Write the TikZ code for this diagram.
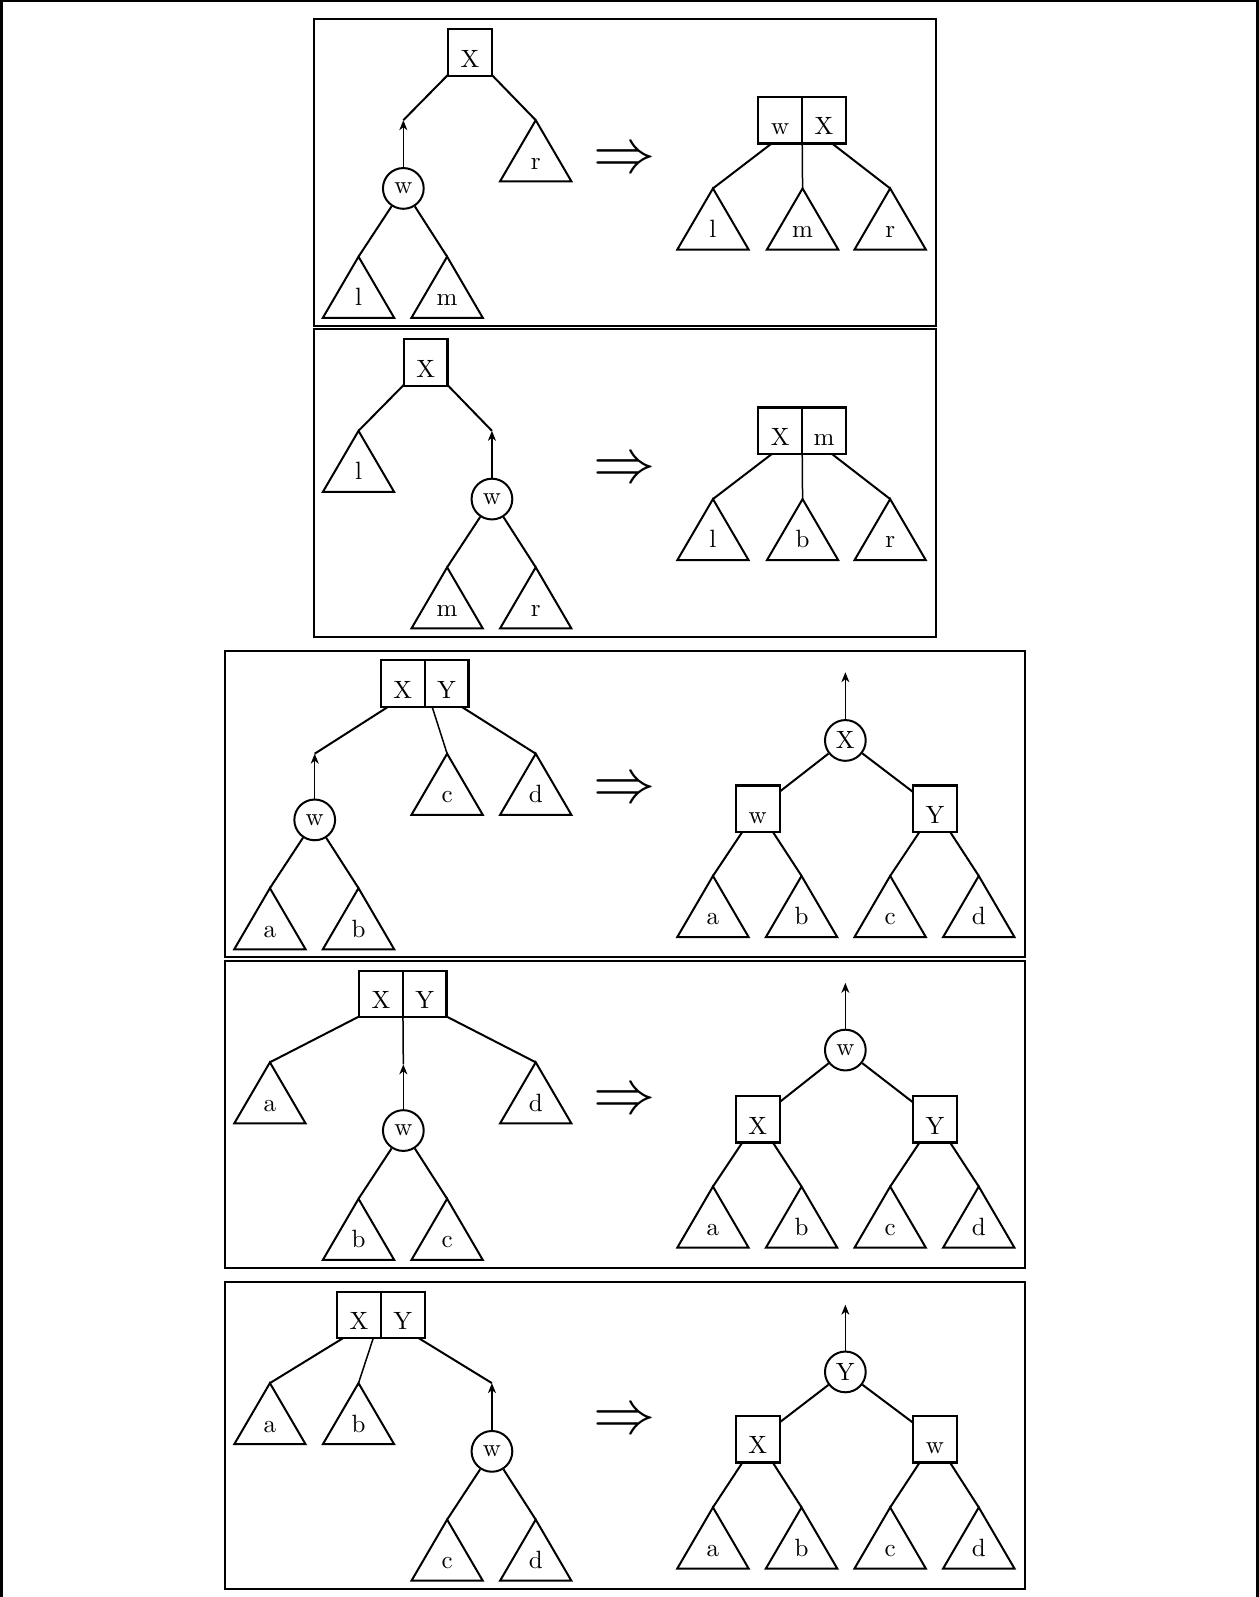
\documentclass[tikz,border=0pt]{standalone}
\usepackage{amssymb}
\usepackage{tikz}
\usetikzlibrary{fit,calc,arrows.meta,positioning}
\tikzset{
  keybox/.style   = {draw, line width=0.9pt, minimum width=17.5pt, minimum height=18.6pt,
                     inner sep=0pt, outer sep=0pt, text height=11.8pt, text depth=0pt},
  keypair/.style  = {inner sep=0pt, outer sep=0pt},
  wnode/.style    = {circle, draw, line width=0.8pt, minimum size=16.3pt, inner sep=0pt},
  edge/.style     = {line width=0.8pt},
  up/.style       = {-{Stealth[length=4pt,width=3.2pt,inset=1.2pt]}, line width=0.6pt},
  panel/.style    = {line width=0.8pt},
  implies/.style  = {font=\fontsize{23.5}{24}\selectfont, inner sep=0pt},
  subtree/.pic    = {
    \coordinate (-top) at (0,0);
    \draw[edge, line join=miter] (0,0) -- (-35,60) -- (35,60) -- cycle;
    \node[anchor=base, inner sep=0pt] (-lab) at (0,48) {#1};
  },
}

\begin{document}
\begin{tikzpicture}[x=0.4074pt, y=-0.4074pt]
  \useasboundingbox (0,0) rectangle (1236,1568);
  \draw[line width=1.2pt] (1.5,1568) -- (1.5,0.7) -- (1234.5,0.7) -- (1234.5,1568);

  % panel 1
  \draw[panel] (308,19) rectangle (919,320);
  \node[keybox] (X1) at (461.5,51.5) {X};
  \coordinate (up1) at (396,118);
  \node[wnode] (w1) at (396,185) {w};
  \pic (l1) at (352,252) {subtree=l};
  \pic (m1) at (439,252) {subtree=m};
  \pic (r1) at (526,118) {subtree=r};
  \draw[edge] (X1) -- (up1);
  \draw[edge] (X1) -- (r1-top);
  \draw[up] (w1) -- (up1);
  \draw[edge] (w1) -- (l1-top);
  \draw[edge] (w1) -- (m1-top);
  \node[implies] (i1) at (613,158) {$\Rightarrow$};
  \node[keybox] (k1a) at (766,118) {w};
  \node[keybox, right=0pt of k1a] (k1b) {X};
  \node[keypair, fit=(k1a)(k1b)] (k1) {};
  \pic (l1r) at (700,185) {subtree=l};
  \pic (m1r) at (788,185) {subtree=m};
  \pic (r1r) at (874,185) {subtree=r};
  \draw[edge] (k1) -- (l1r-top);
  \draw[edge, line width=0.6pt] (k1) -- (m1r-top);
  \draw[edge] (k1) -- (r1r-top);

  % panel 2
  \draw[panel] (308,323) rectangle (919,625);
  \node[keybox] (X2) at (418,356) {X};
  \pic (l2) at (352,423) {subtree=l};
  \coordinate (up2) at (483,423);
  \node[wnode] (w2) at (483,490) {w};
  \pic (m2) at (439,557) {subtree=m};
  \pic (r2) at (526,557) {subtree=r};
  \draw[edge] (X2) -- (l2-top);
  \draw[edge] (X2) -- (up2);
  \draw[up] (w2) -- (up2);
  \draw[edge] (w2) -- (m2-top);
  \draw[edge] (w2) -- (r2-top);
  \node[implies] (i2) at (613,463) {$\Rightarrow$};
  \node[keybox] (k2a) at (766,423) {X};
  \node[keybox, right=0pt of k2a] (k2b) {m};
  \node[keypair, fit=(k2a)(k2b)] (k2) {};
  \pic (l2r) at (700,490) {subtree=l};
  \pic (b2r) at (788,490) {subtree=b};
  \pic (r2r) at (874,490) {subtree=r};
  \draw[edge] (k2) -- (l2r-top);
  \draw[edge, line width=0.6pt] (k2) -- (b2r-top);
  \draw[edge] (k2) -- (r2r-top);

  % panel 3
  \draw[panel] (221,639) rectangle (1006,940);
  \node[keybox] (k3a) at (395.5,671) {X};
  \node[keybox, right=0pt of k3a] (k3b) {Y};
  \node[keypair, fit=(k3a)(k3b)] (k3) {};
  \coordinate (up3) at (309,740);
  \node[wnode] (w3) at (309,805) {w};
  \pic (a3) at (265,872) {subtree=a};
  \pic (b3) at (352,872) {subtree=b};
  \pic (c3) at (439,740) {subtree=c};
  \pic (d3) at (526,740) {subtree=d};
  \draw[edge] (k3) -- (up3);
  \draw[edge, line width=0.6pt] (k3) -- (c3-top);
  \draw[edge] (k3) -- (d3-top);
  \draw[up] (w3) -- (up3);
  \draw[edge] (w3) -- (a3-top);
  \draw[edge] (w3) -- (b3-top);
  \node[implies] (i3) at (613,777) {$\Rightarrow$};
  \coordinate (top3) at (830,660);
  \node[wnode] (X3r) at (830,727) {X};
  \node[keybox] (w3r) at (744,794) {w};
  \node[keybox] (Y3r) at (918,794) {Y};
  \pic (a3r) at (700,860) {subtree=a};
  \pic (b3r) at (787,860) {subtree=b};
  \pic (c3r) at (874,860) {subtree=c};
  \pic (d3r) at (961,860) {subtree=d};
  \draw[up] (X3r) -- (top3);
  \draw[edge] (X3r) -- (w3r);
  \draw[edge] (X3r) -- (Y3r);
  \draw[edge] (w3r) -- (a3r-top);
  \draw[edge] (w3r) -- (b3r-top);
  \draw[edge] (Y3r) -- (c3r-top);
  \draw[edge] (Y3r) -- (d3r-top);

  % panel 4
  \draw[panel] (221,944) rectangle (1006,1245);
  \node[keybox] (k4a) at (374,976) {X};
  \node[keybox, right=0pt of k4a] (k4b) {Y};
  \node[keypair, fit=(k4a)(k4b)] (k4) {};
  \pic (a4) at (265,1043) {subtree=a};
  \pic (d4) at (526,1043) {subtree=d};
  \coordinate (up4) at (396,1045);
  \node[wnode] (w4) at (396,1110) {w};
  \pic (b4) at (352,1177) {subtree=b};
  \pic (c4) at (439,1177) {subtree=c};
  \draw[edge] (k4) -- (a4-top);
  \draw[edge] (k4) -- (d4-top);
  \draw[edge, line width=0.6pt] (k4) -- (up4);
  \draw[up] (w4) -- (up4);
  \draw[edge] (w4) -- (b4-top);
  \draw[edge] (w4) -- (c4-top);
  \node[implies] (i4) at (613,1082) {$\Rightarrow$};
  \coordinate (top4) at (830,965);
  \node[wnode] (w4r) at (830,1031) {w};
  \node[keybox] (X4r) at (744,1099) {X};
  \node[keybox] (Y4r) at (918,1099) {Y};
  \pic (a4r) at (700,1165) {subtree=a};
  \pic (b4r) at (787,1165) {subtree=b};
  \pic (c4r) at (874,1165) {subtree=c};
  \pic (d4r) at (961,1165) {subtree=d};
  \draw[up] (w4r) -- (top4);
  \draw[edge] (w4r) -- (X4r);
  \draw[edge] (w4r) -- (Y4r);
  \draw[edge] (X4r) -- (a4r-top);
  \draw[edge] (X4r) -- (b4r-top);
  \draw[edge] (Y4r) -- (c4r-top);
  \draw[edge] (Y4r) -- (d4r-top);

  % panel 5
  \draw[panel] (221,1259) rectangle (1006,1560);
  \node[keybox] (k5a) at (352.5,1291) {X};
  \node[keybox, right=0pt of k5a] (k5b) {Y};
  \node[keypair, fit=(k5a)(k5b)] (k5) {};
  \pic (a5) at (265,1358) {subtree=a};
  \pic (b5) at (352,1358) {subtree=b};
  \coordinate (up5) at (483,1358);
  \node[wnode] (w5) at (483,1425) {w};
  \pic (c5) at (439,1492) {subtree=c};
  \pic (d5) at (526,1492) {subtree=d};
  \draw[edge] (k5) -- (a5-top);
  \draw[edge, line width=0.6pt] (k5) -- (b5-top);
  \draw[edge] (k5) -- (up5);
  \draw[up] (w5) -- (up5);
  \draw[edge] (w5) -- (c5-top);
  \draw[edge] (w5) -- (d5-top);
  \node[implies] (i5) at (613,1396) {$\Rightarrow$};
  \coordinate (top5) at (830,1281);
  \node[wnode] (Y5r) at (830,1347) {Y};
  \node[keybox] (X5r) at (744,1413) {X};
  \node[keybox] (w5r) at (918,1413) {w};
  \pic (a5r) at (700,1480) {subtree=a};
  \pic (b5r) at (787,1480) {subtree=b};
  \pic (c5r) at (874,1480) {subtree=c};
  \pic (d5r) at (961,1480) {subtree=d};
  \draw[up] (Y5r) -- (top5);
  \draw[edge] (Y5r) -- (X5r);
  \draw[edge] (Y5r) -- (w5r);
  \draw[edge] (X5r) -- (a5r-top);
  \draw[edge] (X5r) -- (b5r-top);
  \draw[edge] (w5r) -- (c5r-top);
  \draw[edge] (w5r) -- (d5r-top);
\end{tikzpicture}
\end{document}
